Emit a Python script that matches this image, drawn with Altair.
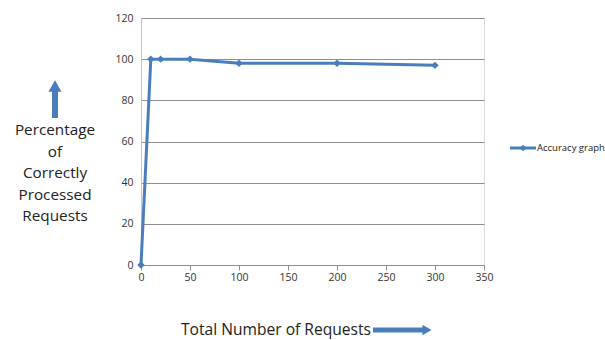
import altair as alt
import pandas as pd

requests = [0, 10, 20, 50, 100, 200, 300]
accuracy = [0, 100, 100, 100, 98, 98, 97]
series_name = "Accuracy graph"
y_title_lines = ["Percentage", "of", "Correctly", "Processed", "Requests"]
x_title = "Total Number of Requests"

df = pd.DataFrame({"requests": requests, "accuracy": accuracy})
one = pd.DataFrame({"d": [0]})

BLUE = "#4a7ebb"
FONT = "Open Sans"

x_enc = alt.X("requests:Q", scale=alt.Scale(domain=[0, 350], nice=False),
              axis=alt.Axis(values=list(range(0, 351, 50)), title=None, grid=False,
                            domainColor="#8f8f8f", tickColor="#8f8f8f", tickSize=5,
                            labelFlush=False,
                            labelFontSize=10.5, labelColor="#333", labelFont=FONT, labelPadding=2))
y_enc = alt.Y("accuracy:Q", scale=alt.Scale(domain=[0, 120], nice=False),
              axis=alt.Axis(values=list(range(0, 121, 20)), title=None, grid=True,
                            gridColor="#8f8f8f", domainColor="#c4c4c4", ticks=False,
                            labelFlush=False,
                            labelFontSize=10.5, labelColor="#333", labelFont=FONT, labelPadding=8))

line = alt.Chart(df).mark_line(color=BLUE, strokeWidth=3).encode(x=x_enc, y=y_enc)
pts = alt.Chart(df).mark_point(shape="diamond", filled=True, color=BLUE, size=55, opacity=1).encode(
    x="requests:Q", y="accuracy:Q")

layers = [line, pts]

# Y title lines
for i, t in enumerate(y_title_lines):
    layers.append(alt.Chart(one).mark_text(text=t, font=FONT, fontSize=15.3, color="#222",
                                           align="center", baseline="middle").encode(
        x=alt.value(-86), y=alt.value(112 + i * 21.5)))

# Up arrow
layers.append(alt.Chart(one).mark_rule(color=BLUE, strokeWidth=6).encode(
    x=alt.value(-86), y=alt.value(72), y2=alt.value(100)))
layers.append(alt.Chart(one).mark_point(shape="triangle-up", filled=True, color=BLUE, size=170,
                                        opacity=1).encode(x=alt.value(-86), y=alt.value(68)))

# X title
layers.append(alt.Chart(one).mark_text(text=x_title, font=FONT, fontSize=15.6, color="#222",
                                       align="center", baseline="middle").encode(
    x=alt.value(135), y=alt.value(312)))
layers.append(alt.Chart(one).mark_rule(color=BLUE, strokeWidth=5).encode(
    x=alt.value(232), x2=alt.value(282), y=alt.value(312)))
layers.append(alt.Chart(one).mark_point(shape="triangle-right", filled=True, color=BLUE, size=110,
                                        opacity=1).encode(x=alt.value(286), y=alt.value(312)))

# Legend
layers.append(alt.Chart(one).mark_rule(color=BLUE, strokeWidth=3).encode(
    x=alt.value(369), x2=alt.value(395), y=alt.value(130)))
layers.append(alt.Chart(one).mark_point(shape="diamond", filled=True, color=BLUE, size=45,
                                        opacity=1).encode(x=alt.value(382), y=alt.value(130)))
layers.append(alt.Chart(one).mark_text(text=series_name, font=FONT, fontSize=9.5, color="#222",
                                       align="left", baseline="middle").encode(
    x=alt.value(396), y=alt.value(130)))

chart = alt.layer(*layers).properties(
    width=343, height=247,
    autosize=alt.AutoSizeParams(type="none"),
    padding={"left": 141, "top": 18, "right": 121, "bottom": 75},
).configure_view(stroke=None).configure(background="white")

chart.save("out.html", embed_options={"renderer": "svg", "actions": False})
